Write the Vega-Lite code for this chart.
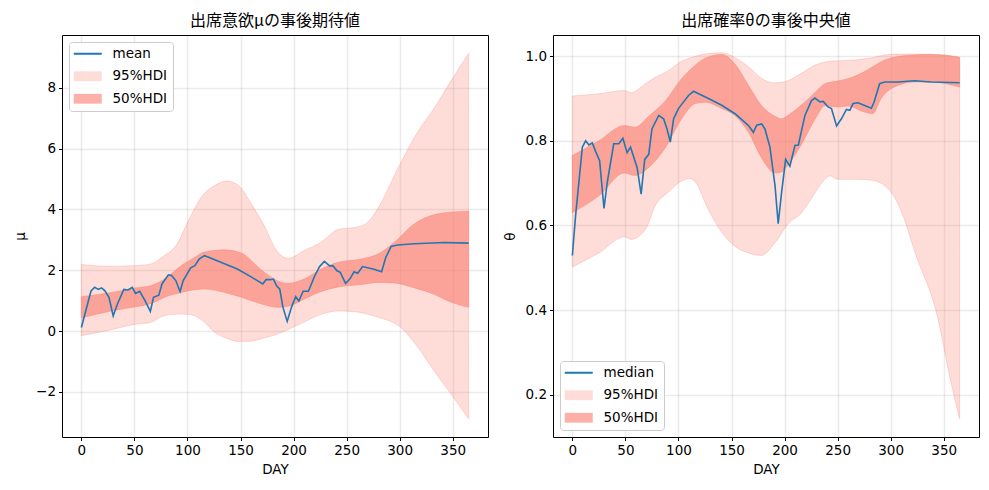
{
  "$schema": "https://vega.github.io/schema/vega-lite/v6.json",
  "padding": {"left": 13, "top": 12, "right": 5, "bottom": 5},
  "config": {
    "view": {"stroke": "black", "strokeWidth": 1},
    "font": "DejaVu Sans",
    "axis": {
      "domain": false, "grid": true, "gridColor": "#000000", "gridOpacity": 0.08, "gridWidth": 1.5,
      "tickColor": "black", "tickSize": 3.5, "tickWidth": 1,
      "labelColor": "black", "labelFont": "DejaVu Sans", "labelFontSize": 13.5, "labelPadding": 3,
      "titleColor": "black", "titleFont": "DejaVu Sans", "titleFontSize": 13.5, "titleFontWeight": "normal"
    },
    "axisY": {"titlePadding": 8},
    "axisX": {"titlePadding": 5},
    "title": {"font": "Noto Sans CJK JP", "fontSize": 16, "fontWeight": "normal", "color": "black", "offset": 6},
    "legend": {
      "title": null, "padding": 5, "offset": 7, "cornerRadius": 3,
      "strokeColor": "#cccccc", "fillColor": "rgba(255,255,255,0.85)",
      "labelFont": "DejaVu Sans", "labelFontSize": 13.5, "labelColor": "black",
      "labelOffset": 25, "symbolSize": 196, "rowPadding": 7.5
    }
  },
  "datasets": {
    "mu_mean": [
      {"day": 0, "v": 0.12}, {"day": 9, "v": 1.31}, {"day": 12.5, "v": 1.44}, {"day": 16, "v": 1.37},
      {"day": 19, "v": 1.42}, {"day": 22, "v": 1.33}, {"day": 26, "v": 1.11}, {"day": 30, "v": 0.5},
      {"day": 34, "v": 0.89}, {"day": 40, "v": 1.37}, {"day": 44, "v": 1.35}, {"day": 48, "v": 1.44},
      {"day": 51, "v": 1.24}, {"day": 55, "v": 1.31}, {"day": 60, "v": 1.0}, {"day": 65, "v": 0.65},
      {"day": 68, "v": 1.11}, {"day": 73, "v": 1.18}, {"day": 76, "v": 1.55}, {"day": 82, "v": 1.85},
      {"day": 85, "v": 1.83}, {"day": 89, "v": 1.66}, {"day": 93, "v": 1.3}, {"day": 96, "v": 1.66},
      {"day": 103, "v": 2.08}, {"day": 107, "v": 2.15}, {"day": 111, "v": 2.37}, {"day": 116, "v": 2.48},
      {"day": 120, "v": 2.43}, {"day": 147, "v": 2.04}, {"day": 160, "v": 1.78}, {"day": 171, "v": 1.55},
      {"day": 174, "v": 1.69}, {"day": 178, "v": 1.69}, {"day": 181, "v": 1.71}, {"day": 184, "v": 1.49},
      {"day": 187, "v": 1.38}, {"day": 190, "v": 0.78}, {"day": 194, "v": 0.32}, {"day": 198, "v": 0.78},
      {"day": 202, "v": 1.13}, {"day": 205, "v": 0.99}, {"day": 209, "v": 1.31}, {"day": 214, "v": 1.31},
      {"day": 220, "v": 1.82}, {"day": 224.5, "v": 2.12}, {"day": 229, "v": 2.29}, {"day": 234, "v": 2.14},
      {"day": 237, "v": 2.15}, {"day": 241, "v": 1.98}, {"day": 244, "v": 1.93}, {"day": 249, "v": 1.57},
      {"day": 253, "v": 1.71}, {"day": 257, "v": 1.95}, {"day": 260.5, "v": 1.9}, {"day": 265, "v": 2.12},
      {"day": 275, "v": 2.04}, {"day": 283, "v": 1.95}, {"day": 287, "v": 2.43}, {"day": 292, "v": 2.78},
      {"day": 298, "v": 2.83}, {"day": 314, "v": 2.87}, {"day": 342, "v": 2.91}, {"day": 365, "v": 2.89}
    ],
    "mu95": [
      {"day": 0, "lo": -0.15, "hi": 2.19}, {"day": 25, "lo": 0.02, "hi": 2.13}, {"day": 50, "lo": 0.22, "hi": 2.15},
      {"day": 65, "lo": 0.28, "hi": 2.2}, {"day": 76, "lo": 0.48, "hi": 2.43}, {"day": 90, "lo": 0.56, "hi": 2.85},
      {"day": 101, "lo": 0.55, "hi": 3.64}, {"day": 113, "lo": 0.38, "hi": 4.4}, {"day": 126, "lo": -0.05, "hi": 4.79},
      {"day": 137, "lo": -0.24, "hi": 4.93}, {"day": 148, "lo": -0.34, "hi": 4.79}, {"day": 160, "lo": -0.33, "hi": 4.19},
      {"day": 173, "lo": -0.22, "hi": 3.42}, {"day": 183, "lo": -0.12, "hi": 2.7}, {"day": 195, "lo": 0.05, "hi": 2.39},
      {"day": 210, "lo": 0.3, "hi": 2.65}, {"day": 226, "lo": 0.55, "hi": 2.92}, {"day": 242, "lo": 0.66, "hi": 3.34},
      {"day": 260, "lo": 0.63, "hi": 3.42}, {"day": 270, "lo": 0.55, "hi": 3.58}, {"day": 282, "lo": 0.43, "hi": 4.19},
      {"day": 298, "lo": 0.2, "hi": 5.33}, {"day": 317, "lo": -0.52, "hi": 6.55}, {"day": 332, "lo": -1.29, "hi": 7.3},
      {"day": 348, "lo": -2.05, "hi": 8.2}, {"day": 365, "lo": -2.88, "hi": 9.13}
    ],
    "mu50": [
      {"day": 0, "lo": 0.43, "hi": 1.13}, {"day": 29, "lo": 0.67, "hi": 1.27}, {"day": 51, "lo": 0.8, "hi": 1.42},
      {"day": 66, "lo": 0.91, "hi": 1.5}, {"day": 82, "lo": 1.16, "hi": 1.8}, {"day": 92, "lo": 1.25, "hi": 2.1},
      {"day": 101, "lo": 1.33, "hi": 2.3}, {"day": 107, "lo": 1.36, "hi": 2.43}, {"day": 116, "lo": 1.38, "hi": 2.6},
      {"day": 135, "lo": 1.27, "hi": 2.67}, {"day": 151, "lo": 1.11, "hi": 2.56}, {"day": 170, "lo": 0.89, "hi": 2.0},
      {"day": 185, "lo": 0.78, "hi": 1.65}, {"day": 195, "lo": 0.82, "hi": 1.57}, {"day": 210, "lo": 1.05, "hi": 1.71},
      {"day": 226, "lo": 1.3, "hi": 2.04}, {"day": 242, "lo": 1.45, "hi": 2.26}, {"day": 264, "lo": 1.53, "hi": 2.37},
      {"day": 280, "lo": 1.6, "hi": 2.54}, {"day": 295, "lo": 1.58, "hi": 2.92}, {"day": 314, "lo": 1.42, "hi": 3.53},
      {"day": 333, "lo": 1.2, "hi": 3.83}, {"day": 345, "lo": 1.0, "hi": 3.9}, {"day": 365, "lo": 0.78, "hi": 3.94}
    ],
    "th_median": [
      {"day": 0, "v": 0.529}, {"day": 3, "v": 0.622}, {"day": 9.4, "v": 0.785}, {"day": 12.5, "v": 0.8},
      {"day": 15.6, "v": 0.79}, {"day": 18.8, "v": 0.795}, {"day": 21.9, "v": 0.775}, {"day": 25.7, "v": 0.753},
      {"day": 29.8, "v": 0.64}, {"day": 32.9, "v": 0.702}, {"day": 39, "v": 0.793}, {"day": 43.8, "v": 0.793},
      {"day": 47.6, "v": 0.806}, {"day": 51.6, "v": 0.772}, {"day": 54.8, "v": 0.785}, {"day": 61, "v": 0.737},
      {"day": 64.8, "v": 0.674}, {"day": 68.2, "v": 0.756}, {"day": 72, "v": 0.768}, {"day": 75, "v": 0.828},
      {"day": 81.4, "v": 0.86}, {"day": 86, "v": 0.852}, {"day": 89.2, "v": 0.828}, {"day": 92.3, "v": 0.797},
      {"day": 95.4, "v": 0.852}, {"day": 100, "v": 0.876}, {"day": 104.8, "v": 0.892}, {"day": 109.5, "v": 0.907},
      {"day": 114.2, "v": 0.917}, {"day": 119, "v": 0.911}, {"day": 128.3, "v": 0.9}, {"day": 140.8, "v": 0.884},
      {"day": 153.3, "v": 0.864}, {"day": 166, "v": 0.836}, {"day": 170.6, "v": 0.82}, {"day": 173.7, "v": 0.837},
      {"day": 178.4, "v": 0.84}, {"day": 181.5, "v": 0.828}, {"day": 186.2, "v": 0.785}, {"day": 191, "v": 0.694},
      {"day": 194, "v": 0.604}, {"day": 197.2, "v": 0.678}, {"day": 201, "v": 0.756}, {"day": 205, "v": 0.74},
      {"day": 209.8, "v": 0.789}, {"day": 213, "v": 0.79}, {"day": 219.2, "v": 0.86}, {"day": 225.4, "v": 0.895},
      {"day": 228.6, "v": 0.901}, {"day": 233.3, "v": 0.892}, {"day": 236.4, "v": 0.893}, {"day": 241, "v": 0.88},
      {"day": 244.2, "v": 0.876}, {"day": 249, "v": 0.835}, {"day": 253.6, "v": 0.852}, {"day": 258.3, "v": 0.874},
      {"day": 261.5, "v": 0.872}, {"day": 264.6, "v": 0.888}, {"day": 269.3, "v": 0.89}, {"day": 281.8, "v": 0.877},
      {"day": 284.3, "v": 0.891}, {"day": 289.6, "v": 0.935}, {"day": 294.3, "v": 0.939}, {"day": 306.8, "v": 0.939},
      {"day": 322.5, "v": 0.942}, {"day": 338, "v": 0.939}, {"day": 365, "v": 0.937}
    ],
    "th95": [
      {"day": 0, "lo": 0.502, "hi": 0.906}, {"day": 25, "lo": 0.535, "hi": 0.911}, {"day": 49, "lo": 0.573, "hi": 0.919},
      {"day": 55, "lo": 0.567, "hi": 0.914}, {"day": 69, "lo": 0.591, "hi": 0.935}, {"day": 78, "lo": 0.646, "hi": 0.95},
      {"day": 90, "lo": 0.678, "hi": 0.965}, {"day": 103, "lo": 0.705, "hi": 0.988}, {"day": 110, "lo": 0.711, "hi": 0.995},
      {"day": 116, "lo": 0.702, "hi": 1.0}, {"day": 128, "lo": 0.638, "hi": 1.006}, {"day": 141, "lo": 0.583, "hi": 1.008},
      {"day": 153, "lo": 0.551, "hi": 0.997}, {"day": 166, "lo": 0.535, "hi": 0.975}, {"day": 178, "lo": 0.529, "hi": 0.948},
      {"day": 191, "lo": 0.559, "hi": 0.937}, {"day": 203, "lo": 0.603, "hi": 0.942}, {"day": 216, "lo": 0.63, "hi": 0.96},
      {"day": 229, "lo": 0.678, "hi": 0.979}, {"day": 238, "lo": 0.709, "hi": 0.986}, {"day": 243, "lo": 0.717, "hi": 0.988},
      {"day": 250, "lo": 0.709, "hi": 0.989}, {"day": 266, "lo": 0.709, "hi": 0.991}, {"day": 282, "lo": 0.707, "hi": 0.996},
      {"day": 298, "lo": 0.686, "hi": 1.004}, {"day": 313, "lo": 0.614, "hi": 1.005}, {"day": 322, "lo": 0.543, "hi": 1.005},
      {"day": 344, "lo": 0.385, "hi": 1.004}, {"day": 357, "lo": 0.227, "hi": 1.0}, {"day": 365, "lo": 0.143, "hi": 0.996}
    ],
    "th50": [
      {"day": 0, "lo": 0.63, "hi": 0.765}, {"day": 25, "lo": 0.67, "hi": 0.8}, {"day": 49, "lo": 0.724, "hi": 0.836},
      {"day": 59, "lo": 0.718, "hi": 0.832}, {"day": 72, "lo": 0.737, "hi": 0.858}, {"day": 88, "lo": 0.785, "hi": 0.895},
      {"day": 103, "lo": 0.852, "hi": 0.947}, {"day": 116, "lo": 0.888, "hi": 0.979}, {"day": 125, "lo": 0.891, "hi": 0.995},
      {"day": 141, "lo": 0.876, "hi": 1.004}, {"day": 153, "lo": 0.86, "hi": 0.982}, {"day": 166, "lo": 0.82, "hi": 0.931},
      {"day": 178, "lo": 0.761, "hi": 0.884}, {"day": 191, "lo": 0.724, "hi": 0.858}, {"day": 197, "lo": 0.726, "hi": 0.852},
      {"day": 203, "lo": 0.742, "hi": 0.86}, {"day": 216, "lo": 0.792, "hi": 0.885}, {"day": 229, "lo": 0.852, "hi": 0.915},
      {"day": 238, "lo": 0.883, "hi": 0.935}, {"day": 250, "lo": 0.88, "hi": 0.941}, {"day": 260, "lo": 0.882, "hi": 0.947},
      {"day": 275, "lo": 0.868, "hi": 0.963}, {"day": 283, "lo": 0.864, "hi": 0.975}, {"day": 291, "lo": 0.9, "hi": 0.987},
      {"day": 307, "lo": 0.931, "hi": 0.999}, {"day": 322, "lo": 0.939, "hi": 1.003}, {"day": 338, "lo": 0.939, "hi": 1.004},
      {"day": 365, "lo": 0.927, "hi": 0.998}
    ]
  },
  "resolve": {"scale": {"color": "independent"}, "legend": {"color": "independent"}},
  "spacing": 13,
  "hconcat": [
    {
      "title": "出席意欲μの事後期待値",
      "width": 426,
      "height": 402,
      "layer": [
        {
          "data": {"name": "mu95"},
          "mark": {"type": "area", "interpolate": "monotone", "stroke": "#fa8072", "strokeOpacity": 0.28, "strokeWidth": 1},
          "encoding": {
            "x": {"field": "day", "type": "quantitative", "title": "DAY", "scale": {"domain": [-18.25, 383.25], "nice": false, "zero": false}, "axis": {"values": [0, 50, 100, 150, 200, 250, 300, 350]}},
            "y": {"field": "lo", "type": "quantitative", "title": "μ", "scale": {"domain": [-3.48, 9.73], "nice": false, "zero": false}, "axis": {"values": [-2, 0, 2, 4, 6, 8]}},
            "y2": {"field": "hi"},
            "color": {"datum": "95%HDI", "type": "nominal", "scale": {"domain": ["mean", "95%HDI", "50%HDI"], "range": ["#1f77b4", "rgba(250,128,114,0.28)", "rgba(250,128,114,0.62)"]},
              "legend": {"orient": "top-left",
                "encode": {"symbols": {"update": {
                  "shape": {"signal": "datum.value == 'mean' ? 'M-1,0H3' : 'M-1,-0.7H3V0.7H-1Z'"},
                  "strokeWidth": {"signal": "datum.value == 'mean' ? 2 : 0"},
                  "opacity": {"value": 1}, "fillOpacity": {"value": 1}, "strokeOpacity": {"value": 1}
                }}}}}
          }
        },
        {
          "data": {"name": "mu50"},
          "mark": {"type": "area", "interpolate": "monotone", "stroke": "#fa8072", "strokeOpacity": 0.45, "strokeWidth": 1},
          "encoding": {
            "x": {"field": "day", "type": "quantitative", "title": "DAY"},
            "y": {"field": "lo", "type": "quantitative", "title": "μ"},
            "y2": {"field": "hi"},
            "color": {"datum": "50%HDI", "type": "nominal",
              "legend": {"orient": "top-left",
                "encode": {"symbols": {"update": {
                  "shape": {"signal": "datum.value == 'mean' ? 'M-1,0H3' : 'M-1,-0.7H3V0.7H-1Z'"},
                  "strokeWidth": {"signal": "datum.value == 'mean' ? 2 : 0"},
                  "opacity": {"value": 1}, "fillOpacity": {"value": 1}, "strokeOpacity": {"value": 1}
                }}}}}
          }
        },
        {
          "data": {"name": "mu_mean"},
          "mark": {"type": "line", "strokeWidth": 1.6},
          "encoding": {
            "x": {"field": "day", "type": "quantitative", "title": "DAY"},
            "y": {"field": "v", "type": "quantitative", "title": "μ"},
            "color": {"datum": "mean", "type": "nominal",
              "legend": {"orient": "top-left",
                "encode": {"symbols": {"update": {
                  "shape": {"signal": "datum.value == 'mean' ? 'M-1,0H3' : 'M-1,-0.7H3V0.7H-1Z'"},
                  "strokeWidth": {"signal": "datum.value == 'mean' ? 2 : 0"},
                  "opacity": {"value": 1}, "fillOpacity": {"value": 1}, "strokeOpacity": {"value": 1}
                }}}}}
          }
        }
      ]
    },
    {
      "title": "出席確率θの事後中央値",
      "width": 426,
      "height": 402,
      "layer": [
        {
          "data": {"name": "th95"},
          "mark": {"type": "area", "interpolate": "monotone", "stroke": "#fa8072", "strokeOpacity": 0.28, "strokeWidth": 1},
          "encoding": {
            "x": {"field": "day", "type": "quantitative", "title": "DAY", "scale": {"domain": [-18.25, 383.25], "nice": false, "zero": false}, "axis": {"values": [0, 50, 100, 150, 200, 250, 300, 350]}},
            "y": {"field": "lo", "type": "quantitative", "title": "θ", "scale": {"domain": [0.1, 1.05], "nice": false, "zero": false}, "axis": {"values": [0.2, 0.4, 0.6, 0.8, 1.0], "format": ".1f"}},
            "y2": {"field": "hi"},
            "color": {"datum": "95%HDI", "type": "nominal", "scale": {"domain": ["median", "95%HDI", "50%HDI"], "range": ["#1f77b4", "rgba(250,128,114,0.28)", "rgba(250,128,114,0.62)"]},
              "legend": {"orient": "bottom-left",
                "encode": {"symbols": {"update": {
                  "shape": {"signal": "datum.value == 'median' ? 'M-1,0H3' : 'M-1,-0.7H3V0.7H-1Z'"},
                  "strokeWidth": {"signal": "datum.value == 'median' ? 2 : 0"},
                  "opacity": {"value": 1}, "fillOpacity": {"value": 1}, "strokeOpacity": {"value": 1}
                }}}}}
          }
        },
        {
          "data": {"name": "th50"},
          "mark": {"type": "area", "interpolate": "monotone", "stroke": "#fa8072", "strokeOpacity": 0.45, "strokeWidth": 1},
          "encoding": {
            "x": {"field": "day", "type": "quantitative", "title": "DAY"},
            "y": {"field": "lo", "type": "quantitative", "title": "θ"},
            "y2": {"field": "hi"},
            "color": {"datum": "50%HDI", "type": "nominal",
              "legend": {"orient": "bottom-left",
                "encode": {"symbols": {"update": {
                  "shape": {"signal": "datum.value == 'median' ? 'M-1,0H3' : 'M-1,-0.7H3V0.7H-1Z'"},
                  "strokeWidth": {"signal": "datum.value == 'median' ? 2 : 0"},
                  "opacity": {"value": 1}, "fillOpacity": {"value": 1}, "strokeOpacity": {"value": 1}
                }}}}}
          }
        },
        {
          "data": {"name": "th_median"},
          "mark": {"type": "line", "strokeWidth": 1.6},
          "encoding": {
            "x": {"field": "day", "type": "quantitative", "title": "DAY"},
            "y": {"field": "v", "type": "quantitative", "title": "θ"},
            "color": {"datum": "median", "type": "nominal",
              "legend": {"orient": "bottom-left",
                "encode": {"symbols": {"update": {
                  "shape": {"signal": "datum.value == 'median' ? 'M-1,0H3' : 'M-1,-0.7H3V0.7H-1Z'"},
                  "strokeWidth": {"signal": "datum.value == 'median' ? 2 : 0"},
                  "opacity": {"value": 1}, "fillOpacity": {"value": 1}, "strokeOpacity": {"value": 1}
                }}}}}
          }
        }
      ]
    }
  ]
}
